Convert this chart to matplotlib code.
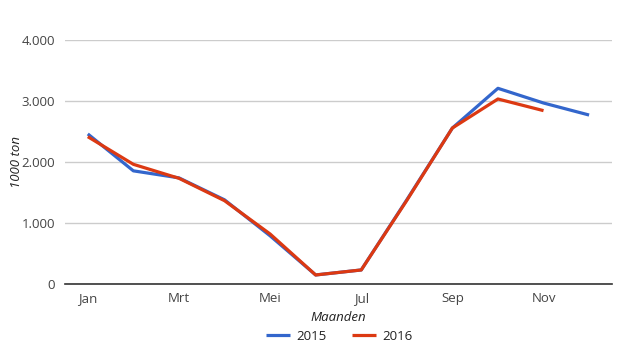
import matplotlib
matplotlib.use("Agg")
import matplotlib.pyplot as plt
from matplotlib.ticker import FuncFormatter

# Data (1000 ton per month)
months = ["Jan", "Feb", "Mrt", "Apr", "Mei", "Jun", "Jul", "Aug", "Sep", "Okt", "Nov", "Dec"]
tick_months = ["Jan", "Mrt", "Mei", "Jul", "Sep", "Nov"]
values_2015 = [2460, 1855, 1740, 1380, 790, 148, 230, 1380, 2557, 3208, 2967, 2770]
values_2016 = [2415, 1962, 1733, 1366, 820, 148, 230, 1370, 2557, 3033, 2842]

plt.rcParams["font.family"] = ["Open Sans", "DejaVu Sans"]

fig = plt.figure(figsize=(6.25, 3.5), dpi=100)
ax = fig.add_axes([0.104, 0.1886, 0.875, 0.6971])

x15 = list(range(len(values_2015)))
x16 = list(range(len(values_2016)))
ax.plot(x15, values_2015, color="#3366cc", lw=2.3, label="2015", solid_capstyle="butt")
ax.plot(x16, values_2016, color="#dc3912", lw=2.3, label="2016", solid_capstyle="butt")

ax.set_xlim(-0.5, 11.5)
ax.set_ylim(0, 4000)
ax.set_yticks([0, 1000, 2000, 3000, 4000])
ax.yaxis.set_major_formatter(FuncFormatter(lambda v, p: f"{int(v):,}".replace(",", ".")))
ax.set_xticks([months.index(m) for m in tick_months])
ax.set_xticklabels(tick_months)

ax.grid(axis="y", color="#cccccc", lw=1)
ax.set_axisbelow(True)
for s in ["top", "right", "left"]:
    ax.spines[s].set_visible(False)
ax.spines["bottom"].set_color("#333333")
ax.spines["bottom"].set_linewidth(1.2)
ax.tick_params(length=0, labelsize=9.5, colors="#444444", pad=6)
ax.tick_params(axis="y", pad=7)

ax.set_ylabel("1000 ton", fontsize=9.5, style="italic", color="#222222")
ax.yaxis.set_label_coords(-0.076, 0.5)
ax.set_xlabel("Maanden", fontsize=9.5, style="italic", color="#222222", labelpad=4)

fig.legend(loc="center", bbox_to_anchor=(0.543, 0.04), ncol=2, frameon=False,
           fontsize=9.5, handlelength=1.8, columnspacing=1.9, handletextpad=0.5,
           labelcolor="#222222")

fig.savefig("out.png", dpi=100)
